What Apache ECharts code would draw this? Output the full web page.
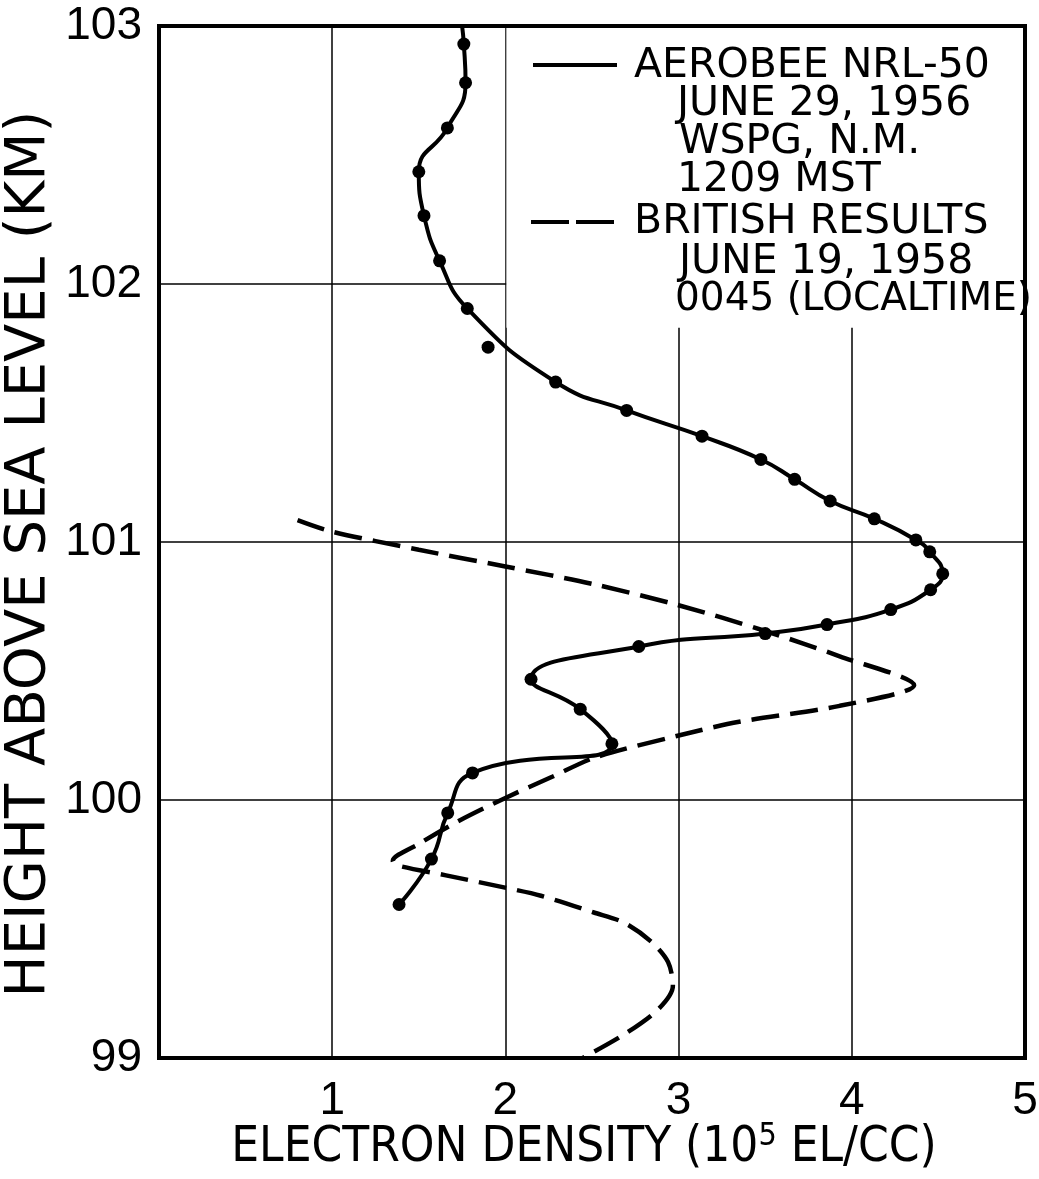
<!DOCTYPE html>
<html>
<head>
<meta charset="utf-8">
<script src="https://cdn.jsdelivr.net/npm/echarts@6/dist/echarts.min.js"></script>
<style>
  html, body { margin: 0; padding: 0; background: #ffffff; }
  #chart { width: 1039px; height: 1179px; }
</style>
</head>
<body>
<div id="chart"></div>
<script>
// ---- Data ----
// AEROBEE NRL-50 measured points (electron density, 10^5 el/cc ; height, km)
const aerobeeDensity = [1.76, 1.77, 1.665, 1.50, 1.53, 1.62, 1.78, 1.90, 2.29, 2.70,
                        3.135, 3.475, 3.67, 3.875, 4.13, 4.37, 4.45, 4.525, 4.455, 4.225,
                        3.857, 3.50, 2.77, 2.148, 2.432, 2.615, 1.81, 1.667, 1.573, 1.386];
const aerobeeHeight  = [102.93, 102.78, 102.605, 102.435, 102.265, 102.09, 101.905, 101.755, 101.62, 101.51,
                        101.41, 101.32, 101.243, 101.159, 101.09, 101.008, 100.962, 100.877, 100.815, 100.738,
                        100.68, 100.645, 100.595, 100.468, 100.352, 100.218, 100.105, 99.95, 99.771, 99.595];
// index of the measured point that the fitted curve does not pass through
const aerobeeOffCurve = [7];
// where the fitted curve leaves the top of the frame
const aerobeeCurveTop = [1.75, 103.0];

// British results (dashed curve), traced from top to bottom
const britishDensity = [0.80, 1.0, 1.5, 2.0, 2.5, 3.0, 3.5, 3.93, 4.36,
                        3.93, 3.35, 3.0, 2.52, 2.27, 2.0, 1.72, 1.50, 1.35,
                        1.372, 1.657, 2.008, 2.205, 2.511, 2.687, 2.840, 2.939, 2.967, 2.884, 2.687, 2.446];
const britishHeight  = [101.085, 101.04, 100.97, 100.905, 100.838, 100.755, 100.655, 100.557, 100.445,
                        100.365, 100.303, 100.25, 100.165, 100.09, 100.008, 99.915, 99.83, 99.764,
                        99.747, 99.708, 99.659, 99.629, 99.564, 99.524, 99.452, 99.372, 99.28, 99.19, 99.092, 99.0];

const xTicks = [0, 1, 2, 3, 4, 5];
const yTicks = [99, 100, 101, 102, 103];

const legendSolid = ['AEROBEE NRL-50', 'JUNE 29, 1956', 'WSPG, N.M.', '1209 MST'];
const legendDashed = ['BRITISH RESULTS', 'JUNE 19, 1958', '0045 (LOCALTIME)'];

const xTitle = 'ELECTRON DENSITY (10';
const xTitleSup = '5';
const xTitleEnd = ' EL/CC)';
const yTitle = 'HEIGHT ABOVE SEA LEVEL (KM)';

// ---- Build series data ----
const dots = aerobeeDensity.map((d, i) => [d, aerobeeHeight[i]]);
const curve = [aerobeeCurveTop].concat(dots.filter((p, i) => aerobeeOffCurve.indexOf(i) < 0));
const british = britishDensity.map((d, i) => [d, britishHeight[i]]);

const FONT = "'DejaVu Sans', 'Liberation Sans', sans-serif";
const NARROW = "'DejaVu Sans Condensed', 'Liberation Sans Narrow', 'Liberation Sans', sans-serif";

const chart = echarts.init(document.getElementById('chart'), null, { renderer: 'canvas' });

const option = {
  backgroundColor: '#ffffff',
  animation: false,
  grid: {
    left: 159, right: 14, top: 26, bottom: 121,
    containLabel: false,
    outerBoundsMode: 'none',
    show: true, borderColor: '#000', borderWidth: 4, z: 3
  },
  xAxis: {
    type: 'value',
    min: xTicks[0], max: xTicks[xTicks.length - 1], interval: 1,
    axisLine: { show: false },
    axisTick: { show: false },
    splitLine: { show: true, lineStyle: { color: '#000', width: 1.5 } },
    axisLabel: {
      showMinLabel: false,
      margin: 20,
      color: '#000',
      fontFamily: "'Liberation Sans', sans-serif",
      fontSize: 46
    },
    name: '{a|' + xTitle + '}{s|' + xTitleSup + '}{a|' + xTitleEnd + '}',
    nameLocation: 'middle',
    nameMoveOverlap: false,
    nameGap: 63,
    nameTextStyle: {
      padding: [0, 16, 0, 0],
      rich: {
        a: { fontFamily: NARROW, fontSize: 49, color: '#000' },
        s: { fontFamily: NARROW, fontSize: 32, color: '#000', verticalAlign: 'top', padding: [0, 0, 22, 0] }
      }
    }
  },
  yAxis: {
    type: 'value',
    min: yTicks[0], max: yTicks[yTicks.length - 1], interval: 1,
    axisLine: { show: false },
    axisTick: { show: false },
    splitLine: { show: true, lineStyle: { color: '#000', width: 1.5 } },
    axisLabel: {
      margin: 17,
      color: '#000',
      fontFamily: "'Liberation Sans', sans-serif",
      fontSize: 46
    },
    name: yTitle,
    nameLocation: 'middle',
    nameMoveOverlap: false,
    nameGap: 102,
    nameTextStyle: { fontFamily: FONT, fontSize: 56, color: '#000', padding: [0, 24, 0, 0] }
  },
  series: [
    {
      name: 'AEROBEE NRL-50',
      type: 'line',
      data: curve,
      smooth: 0.5,
      showSymbol: false,
      lineStyle: { color: '#000', width: 4 },
      z: 4
    },
    {
      name: 'AEROBEE NRL-50 points',
      type: 'scatter',
      data: dots,
      symbol: 'circle',
      symbolSize: 13,
      itemStyle: { color: '#000', opacity: 1 },
      z: 5
    },
    {
      name: 'BRITISH RESULTS',
      type: 'line',
      data: british,
      smooth: 0.3,
      showSymbol: false,
      lineStyle: { color: '#000', width: 4.5, type: [28, 11] },
      z: 4
    }
  ]
};

chart.setOption(option);

// Legend panel: white box that hides the grid in the upper right corner
const tl = chart.convertToPixel({ gridIndex: 0 }, [2, 103]);
const br = chart.convertToPixel({ gridIndex: 0 }, [5, 101.83]);
const boxX = tl[0] + 1, boxY = tl[1] + 2, boxW = br[0] - tl[0] - 3, boxH = br[1] - tl[1] - 2;

const legendFont = "41px 'DejaVu Sans', sans-serif";
const legendFontSmall = "39px 'DejaVu Sans', sans-serif";
const legendEls = [
  { type: 'rect', shape: { x: boxX, y: boxY, width: boxW, height: boxH }, style: { fill: '#fff' }, z: 1, silent: true },
  { type: 'line', shape: { x1: 533, y1: 65, x2: 617, y2: 65 }, style: { stroke: '#000', lineWidth: 4 }, z: 6 },
  { type: 'line', shape: { x1: 531, y1: 222, x2: 615, y2: 222 }, style: { stroke: '#000', lineWidth: 4, lineDash: [38, 7] }, z: 6 }
];
function addText(t, x, y, font) {
  legendEls.push({ type: 'text', x: x, y: y, z: 6,
    style: { text: t, fill: '#000', font: font, textVerticalAlign: 'middle', textAlign: 'left' } });
}
const solidX = [634, 677, 679, 677];
const solidY = [66, 104, 142, 180];
legendSolid.forEach((t, i) => addText(t, solidX[i], solidY[i], legendFont));
const dashX = [634, 679, 675];
const dashY = [222, 262, 300];
legendDashed.forEach((t, i) => addText(t, dashX[i], dashY[i], i === 2 ? legendFontSmall : legendFont));

chart.setOption({ graphic: { elements: legendEls } });
</script>
</body>
</html>
